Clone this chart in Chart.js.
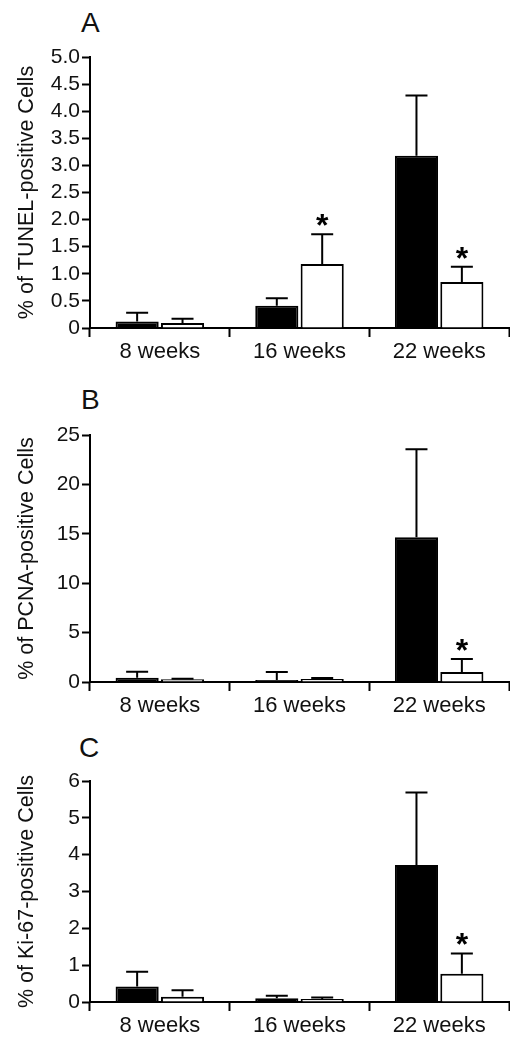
<!DOCTYPE html>
<html>
<head>
<meta charset="utf-8">
<script src="https://cdn.jsdelivr.net/npm/chart.js@4.4.1/dist/chart.umd.min.js"></script>
<style>
  html, body { margin: 0; padding: 0; background: #fff; }
  body { width: 510px; height: 1050px; position: relative; overflow: hidden; font-family: "Liberation Sans", Arial, sans-serif; }
  .panel { position: absolute; left: 0; width: 510px; }
  .letter { position: absolute; font-size: 28px; line-height: 28px; color: #111; font-family: "Liberation Sans", Arial, sans-serif; }
  canvas { display: block; }
</style>
</head>
<body>
<div class="letter" style="left:81px; top:9px;">A</div>
<div class="letter" style="left:81px; top:386px;">B</div>
<div class="letter" style="left:79px; top:734px;">C</div>
<div class="panel" style="top:0px; height:370px;"><canvas id="cA" width="510" height="370"></canvas></div>
<div class="panel" style="top:370px; height:350px;"><canvas id="cB" width="510" height="350"></canvas></div>
<div class="panel" style="top:720px; height:330px;"><canvas id="cC" width="510" height="330"></canvas></div>
<script>
// ---- data ----
const categories = ['8 weeks', '16 weeks', '22 weeks'];

const tunelBlack    = [0.12, 0.41, 3.18];
const tunelBlackErr = [0.16, 0.14, 1.11];
const tunelWhite    = [0.09, 1.18, 0.85];
const tunelWhiteErr = [0.08, 0.55, 0.28];
const tunelWhiteSig = [false, true, true];
const tunelTicks = ['0', '0.5', '1.0', '1.5', '2.0', '2.5', '3.0', '3.5', '4.0', '4.5', '5.0'];

const pcnaBlack    = [0.43, 0.2, 14.66];
const pcnaBlackErr = [0.61, 0.8, 8.9];
const pcnaWhite    = [0.27, 0.3, 1.01];
const pcnaWhiteErr = [0.06, 0.1, 1.32];
const pcnaWhiteSig = [false, false, true];
const pcnaTicks = ['0', '5', '10', '15', '20', '25'];

const ki67Black    = [0.42, 0.1, 3.72];
const ki67BlackErr = [0.4, 0.07, 1.97];
const ki67White    = [0.14, 0.08, 0.77];
const ki67WhiteErr = [0.18, 0.04, 0.55];
const ki67WhiteSig = [false, false, true];
const ki67Ticks = ['0', '1', '2', '3', '4', '5', '6'];

// ---- plugin: error bars + significance asterisks ----
const errorBarPlugin = {
  id: 'errorBars',
  afterDatasetsDraw(chart) {
    const ctx = chart.ctx;
    const yScale = chart.scales.y;
    ctx.save();
    chart.data.datasets.forEach((ds, i) => {
      const meta = chart.getDatasetMeta(i);
      meta.data.forEach((bar, j) => {
        const v = ds.data[j];
        const e = ds.errors[j];
        const yTop = yScale.getPixelForValue(v);
        const yErr = yScale.getPixelForValue(v + e);
        ctx.strokeStyle = '#000';
        ctx.lineWidth = 2;
        ctx.beginPath();
        ctx.moveTo(bar.x, yTop);
        ctx.lineTo(bar.x, yErr);
        ctx.moveTo(bar.x - 11, yErr);
        ctx.lineTo(bar.x + 11, yErr);
        ctx.stroke();
        if (ds.sig && ds.sig[j]) {
          ctx.fillStyle = '#000';
          ctx.font = 'bold 32px "Liberation Sans", Arial, sans-serif';
          ctx.textAlign = 'center';
          ctx.textBaseline = 'alphabetic';
          ctx.fillText('*', bar.x, yErr - 16 + 18);
        }
      });
    });
    ctx.restore();
  }
};

function makeChart(id, black, blackErr, white, whiteErr, whiteSig, tickLabels, maxV, step, title, padTop, xHeight) {
  return new Chart(document.getElementById(id), {
    type: 'bar',
    data: {
      labels: categories,
      datasets: [
        { data: black, errors: blackErr, sig: null, backgroundColor: '#000', borderColor: '#000', borderWidth: 2,
          categoryPercentage: 0.65, barPercentage: 0.95 },
        { data: white, errors: whiteErr, sig: whiteSig, backgroundColor: '#fff', borderColor: '#000', borderWidth: 2,
          categoryPercentage: 0.65, barPercentage: 0.95 }
      ]
    },
    options: {
      responsive: false,
      animation: false,
      devicePixelRatio: 1,
      layout: { padding: { top: padTop, left: 0, right: 1, bottom: 0 } },
      plugins: { legend: { display: false }, tooltip: { enabled: false }, title: { display: false } },
      scales: {
        x: {
          type: 'category',
          offset: true,
          grid: { display: true, offset: true, drawOnChartArea: false, drawTicks: true, tickLength: 9, tickWidth: 2, tickColor: '#000', color: '#000' },
          border: { display: true, color: '#000', width: 2 },
          ticks: { color: '#111', padding: 2, font: { family: '"Liberation Sans", Arial, sans-serif', size: 22 }, maxRotation: 0, autoSkip: false },
          afterFit(scale) { scale.height = xHeight; }
        },
        y: {
          min: 0, max: maxV,
          grid: { display: true, drawOnChartArea: false, drawTicks: true, tickLength: 8, tickWidth: 2, tickColor: '#000', color: '#000' },
          border: { display: true, color: '#000', width: 2 },
          ticks: {
            stepSize: step, color: '#111', padding: 2, autoSkip: false,
            font: { family: '"Liberation Sans", Arial, sans-serif', size: 21 },
            callback: (v, i) => tickLabels[i]
          },
          title: { display: true, text: title, color: '#111', padding: { top: 14, bottom: 0 },
                   font: { family: '"Liberation Sans", Arial, sans-serif', size: 21.5 } },
          afterFit(scale) { scale.width = 90; }
        }
      }
    },
    plugins: [errorBarPlugin]
  });
}

makeChart('cA', tunelBlack, tunelBlackErr, tunelWhite, tunelWhiteErr, tunelWhiteSig, tunelTicks, 5, 0.5,
          '% of TUNEL-positive Cells', 57, 42);
makeChart('cB', pcnaBlack, pcnaBlackErr, pcnaWhite, pcnaWhiteErr, pcnaWhiteSig, pcnaTicks, 25, 5,
          '% of PCNA-positive Cells', 65, 38);
makeChart('cC', ki67Black, ki67BlackErr, ki67White, ki67WhiteErr, ki67WhiteSig, ki67Ticks, 6, 1,
          '% of Ki-67-positive Cells', 61, 48);
</script>
</body>
</html>
